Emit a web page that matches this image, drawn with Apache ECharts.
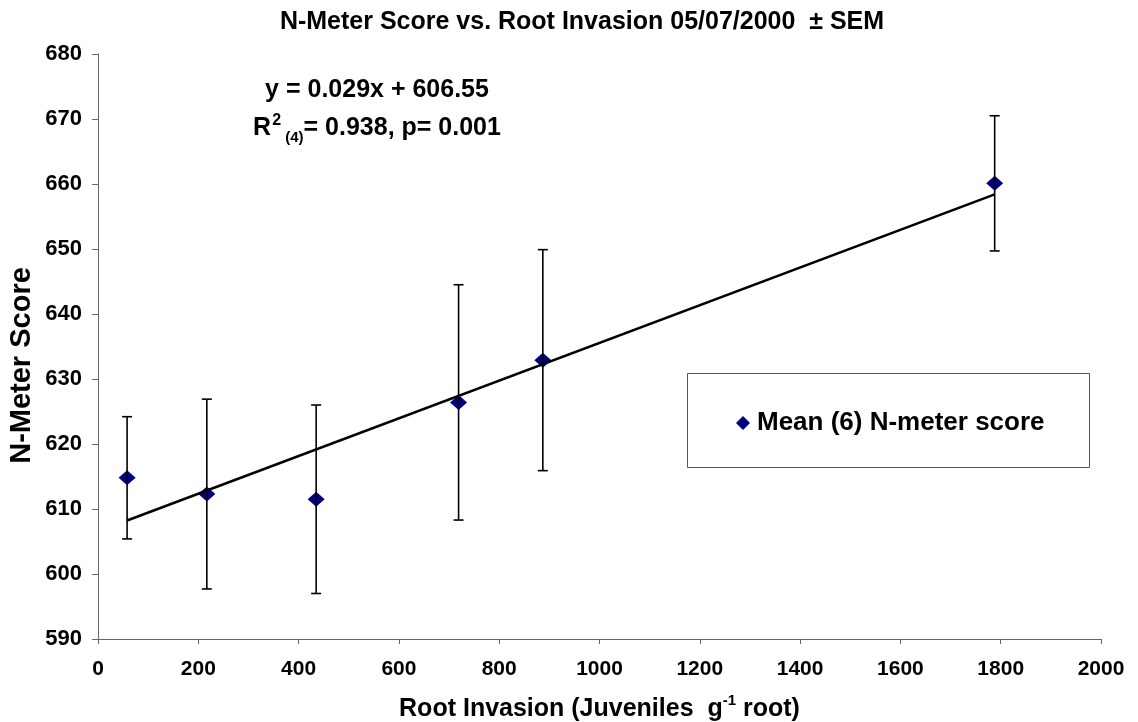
<!DOCTYPE html>
<html>
<head>
<meta charset="utf-8">
<script src="https://cdn.jsdelivr.net/npm/echarts@6/dist/echarts.min.js"></script>
<style>
  html, body { margin: 0; padding: 0; background: #fff; }
  #chart { width: 1138px; height: 722px; }
</style>
</head>
<body>
<div id="chart"></div>
<script>
// Root invasion (juveniles per g root) and mean N-meter score (n = 6) with SEM
const rootInvasion = [58, 217, 435, 719, 887, 1788];
const meanScore    = [614.8, 612.3, 611.5, 626.4, 632.9, 660.1];
const semScore     = [9.4, 14.6, 14.5, 18.1, 17.0, 10.4];

// Linear fit reported on the chart
const fitSlope = 0.029;
const fitIntercept = 606.55;

const xTicks = { min: 0, max: 2000, interval: 200 };
const yTicks = { min: 590, max: 680, interval: 10 };

const FONT = '"Liberation Sans", Arial, sans-serif';
const NAVY = '#000080';

const points = rootInvasion.map((x, i) => [x, meanScore[i]]);
const errorBars = rootInvasion.map((x, i) => [x, meanScore[i] - semScore[i], meanScore[i] + semScore[i]]);
const xFirst = Math.min(...rootInvasion);
const xLast = Math.max(...rootInvasion);
const trend = [xFirst, xLast].map(x => [x, fitSlope * x + fitIntercept]);

const chart = echarts.init(document.getElementById('chart'), null, { renderer: 'canvas' });

chart.setOption({
  animation: false,
  backgroundColor: '#ffffff',
  textStyle: { fontFamily: FONT, color: '#000' },
  title: [
    {
      text: 'N-Meter Score vs. Root Invasion 05/07/2000  \u00B1 SEM',
      left: 577, top: 5, textAlign: 'center',
      textStyle: { fontFamily: FONT, fontWeight: 'bold', fontSize: 25, color: '#000' }
    },
    {
      text: '{n|y = 0.029x + 606.55}\n{n|R}{sup|2}{sub| (4)}{n|= 0.938, p= 0.001}',
      left: 372, top: 66, textAlign: 'center',
      textStyle: {
        fontFamily: FONT, fontWeight: 'bold', fontSize: 25, color: '#000',
        rich: {
          n:   { fontFamily: FONT, fontWeight: 'bold', fontSize: 25, lineHeight: 38, color: '#000' },
          sup: { fontFamily: FONT, fontWeight: 'bold', fontSize: 16, lineHeight: 38, verticalAlign: 'top', padding: [4, 0, 0, 1], color: '#000' },
          sub: { fontFamily: FONT, fontWeight: 'bold', fontSize: 15, lineHeight: 38, verticalAlign: 'bottom', padding: [0, 0, 2, 0], color: '#000' }
        }
      }
    }
  ],
  legend: {
    data: ['Mean (6) N-meter score'],
    left: 736, top: 410,
    padding: 0,
    itemWidth: 14, itemHeight: 14, itemGap: 0,
    icon: 'diamond',
    itemStyle: { opacity: 1 },
    textStyle: { fontFamily: FONT, fontWeight: 'bold', fontSize: 26, color: '#000', padding: [0, 0, 0, 2] }
  },
  graphic: [
    {
      type: 'rect', silent: true, z: 0,
      shape: { x: 687.5, y: 373.5, width: 402, height: 94 },
      style: { fill: 'none', stroke: '#555', lineWidth: 1 }
    }
  ],
  grid: { left: 98, right: 37, top: 54, bottom: 83, containLabel: false, outerBoundsMode: 'none' },
  xAxis: {
    type: 'value',
    min: xTicks.min, max: xTicks.max, interval: xTicks.interval,
    name: '{n|Root Invasion (Juveniles  g}{sup|-1}{n| root)}',
    nameLocation: 'middle', nameGap: 54,
    nameMoveOverlap: false,
    nameTextStyle: {
      rich: {
        n:   { fontFamily: FONT, fontWeight: 'bold', fontSize: 25, lineHeight: 32, color: '#000' },
        sup: { fontFamily: FONT, fontWeight: 'bold', fontSize: 15, lineHeight: 32, verticalAlign: 'top', color: '#000' }
      }
    },
    axisLine: { lineStyle: { color: '#666', width: 1 } },
    axisTick: { show: true, length: 5, lineStyle: { color: '#666' } },
    axisLabel: {
      fontFamily: FONT, fontWeight: 'bold', fontSize: 21, color: '#000', margin: 20,
      formatter: v => String(v)
    },
    splitLine: { show: false }
  },
  yAxis: {
    type: 'value',
    min: yTicks.min, max: yTicks.max, interval: yTicks.interval,
    name: 'N-Meter Score',
    nameLocation: 'middle', nameGap: 62, nameRotate: 90,
    nameMoveOverlap: false,
    nameTextStyle: { fontFamily: FONT, fontWeight: 'bold', fontSize: 29, color: '#000', padding: [0, 38, 0, 0] },
    axisLine: { show: true, lineStyle: { color: '#666', width: 1 } },
    axisTick: { show: true, length: 6, lineStyle: { color: '#666' } },
    axisLabel: {
      fontFamily: FONT, fontWeight: 'bold', fontSize: 22, color: '#000', margin: 16,
      formatter: v => String(v)
    },
    splitLine: { show: false }
  },
  series: [
    {
      name: 'Mean (6) N-meter score',
      type: 'scatter',
      data: points,
      symbol: 'diamond',
      symbolSize: [17, 15],
      itemStyle: { color: NAVY, opacity: 1 },
      z: 2
    },
    {
      name: 'SEM',
      type: 'custom',
      data: errorBars,
      z: 3,
      renderItem: function (params, api) {
        const x = api.value(0);
        const lo = api.coord([x, api.value(1)]);
        const hi = api.coord([x, api.value(2)]);
        const cap = 5;
        const style = { stroke: '#000', lineWidth: 1.6 };
        return {
          type: 'group',
          children: [
            { type: 'line', shape: { x1: lo[0], y1: lo[1], x2: hi[0], y2: hi[1] }, style },
            { type: 'line', shape: { x1: lo[0] - cap, y1: lo[1], x2: lo[0] + cap, y2: lo[1] }, style },
            { type: 'line', shape: { x1: hi[0] - cap, y1: hi[1], x2: hi[0] + cap, y2: hi[1] }, style }
          ]
        };
      }
    },
    {
      name: 'Linear fit',
      type: 'line',
      data: trend,
      symbol: 'none',
      lineStyle: { color: '#000', width: 2.5 },
      z: 4
    }
  ]
});
</script>
</body>
</html>
